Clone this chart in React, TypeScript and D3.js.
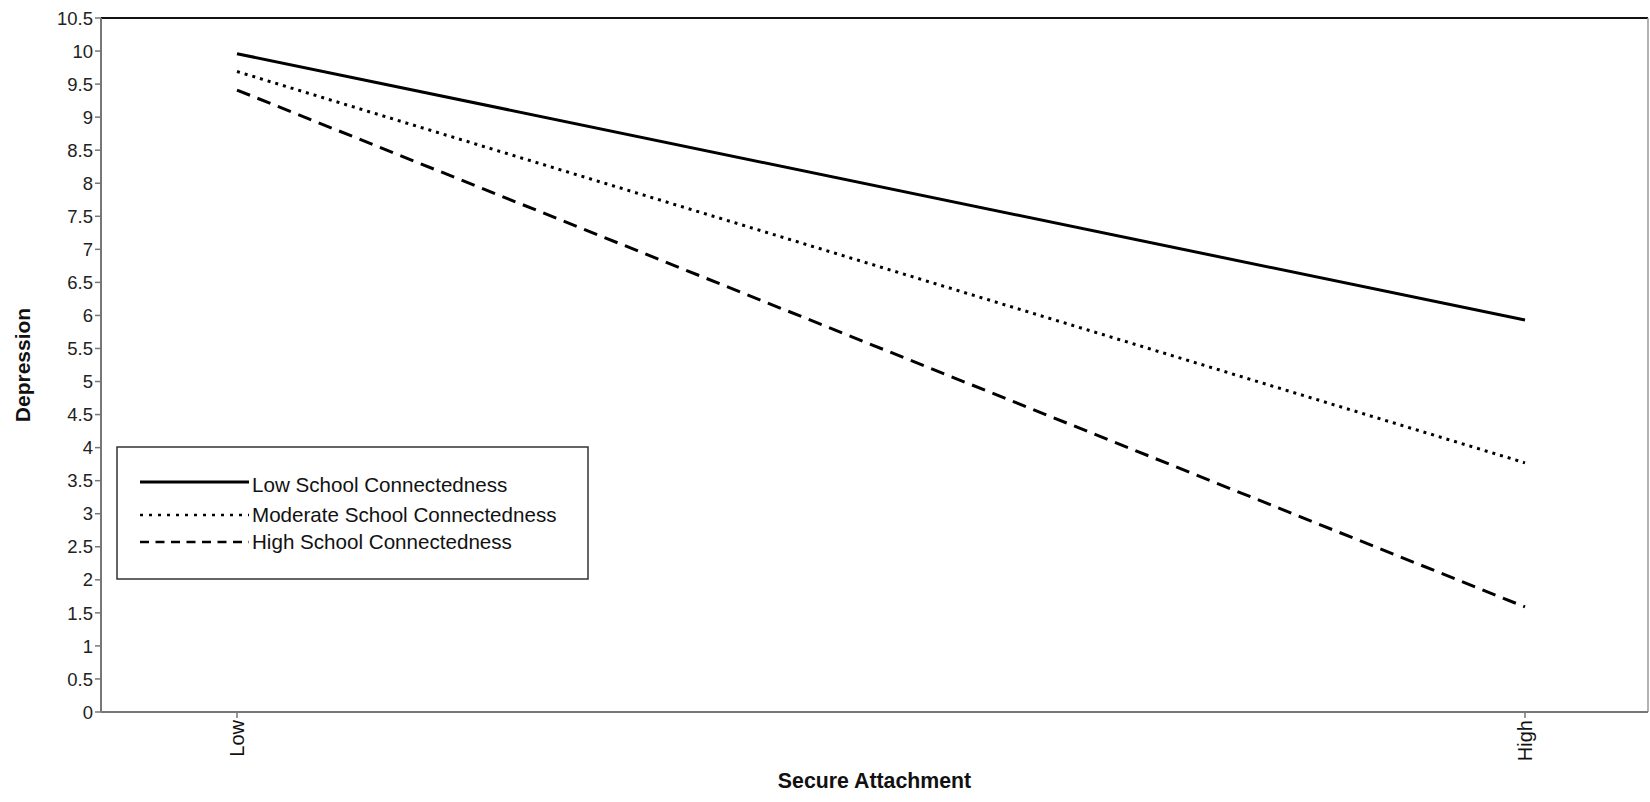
import React from "react";
import * as d3 from "d3";

const categories = ["Low", "High"];
const seriesNames = [
  "Low School Connectedness",
  "Moderate School Connectedness",
  "High School Connectedness",
];
const lowConnectedness = [9.96, 5.93];
const moderateConnectedness = [9.69, 3.77];
const highConnectedness = [9.41, 1.59];
const yTicks = [0, 0.5, 1, 1.5, 2, 2.5, 3, 3.5, 4, 4.5, 5, 5.5, 6, 6.5, 7, 7.5, 8, 8.5, 9, 9.5, 10, 10.5];

const W = 1650;
const H = 802;
const left = 101;
const right = 1648;
const top = 18;
const bottom = 712;

export default function App() {
  const x = d3.scalePoint<string>().domain(categories).range([237, 1525]);
  const y = d3.scaleLinear().domain([0, 10.5]).range([bottom, top]);
  const line = d3
    .line<number>()
    .x((_, i) => x(categories[i]) as number)
    .y((d) => y(d));

  const series = [
    { name: seriesNames[0], values: lowConnectedness, dash: "none", legendDash: "none" },
    { name: seriesNames[1], values: moderateConnectedness, dash: "3,5", legendDash: "3,6" },
    { name: seriesNames[2], values: highConnectedness, dash: "14,8", legendDash: "9,6.5" },
  ];

  const font = "Arial, 'Liberation Sans', sans-serif";
  const legendX = 117;
  const legendY = 447;
  const legendRows = [482, 515, 542];
  const textBase = [492, 522, 549];

  return (
    <svg
      width={W}
      height={H}
      style={{ position: "absolute", left: 0, top: 0, background: "#fff" }}
      fontFamily={font}
    >
      <rect x={0} y={0} width={W} height={H} fill="#fff" />
      {/* frame */}
      <line x1={left} x2={right} y1={top} y2={top} stroke="#111" strokeWidth={2} />
      <line x1={right} x2={right} y1={top} y2={bottom} stroke="#999" strokeWidth={1.5} />
      <line x1={left} x2={right} y1={bottom} y2={bottom} stroke="#777" strokeWidth={2} />
      <line x1={left} x2={left} y1={top} y2={bottom} stroke="#777" strokeWidth={2} />

      {/* y ticks */}
      {yTicks.map((t) => (
        <g key={t}>
          <line x1={left - 6} x2={left} y1={y(t)} y2={y(t)} stroke="#777" strokeWidth={1.5} />
          <text
            x={left - 8}
            y={y(t)}
            dy="0.36em"
            textAnchor="end"
            fontSize={18.5}
            fill="#222"
          >
            {String(t)}
          </text>
        </g>
      ))}

      {/* x ticks */}
      {categories.map((c) => (
        <g key={c}>
          <line x1={x(c)} x2={x(c)} y1={bottom} y2={bottom + 6} stroke="#777" strokeWidth={1.5} />
          <text
            transform={`translate(${(x(c) as number)},${bottom + 8}) rotate(-90)`}
            dy="0.36em"
            textAnchor="end"
            fontSize={20}
            fill="#111"
          >
            {c}
          </text>
        </g>
      ))}

      {/* lines */}
      {series.map((s) => (
        <path
          key={s.name}
          d={line(s.values) as string}
          fill="none"
          stroke="#000"
          strokeWidth={3}
          strokeDasharray={s.dash}
        />
      ))}

      {/* legend */}
      <rect
        x={legendX}
        y={legendY}
        width={588 - legendX}
        height={579 - legendY}
        fill="#fff"
        stroke="#333"
        strokeWidth={1.5}
      />
      {series.map((s, i) => (
        <g key={s.name}>
          <line
            x1={140}
            x2={249}
            y1={legendRows[i]}
            y2={legendRows[i]}
            stroke="#000"
            strokeWidth={i === 0 ? 3 : 2.5}
            strokeDasharray={s.legendDash}
          />
          <text x={252} y={textBase[i]} fontSize={20.6} fill="#111">
            {s.name}
          </text>
        </g>
      ))}

      {/* axis titles */}
      <text
        x={(left + right) / 2}
        y={788}
        textAnchor="middle"
        fontSize={21.3}
        fontWeight="bold"
        fill="#111"
      >
        Secure Attachment
      </text>
      <text
        transform={`translate(30,${(top + bottom) / 2}) rotate(-90)`}
        textAnchor="middle"
        fontSize={21}
        fontWeight="bold"
        fill="#111"
      >
        Depression
      </text>
    </svg>
  );
}
